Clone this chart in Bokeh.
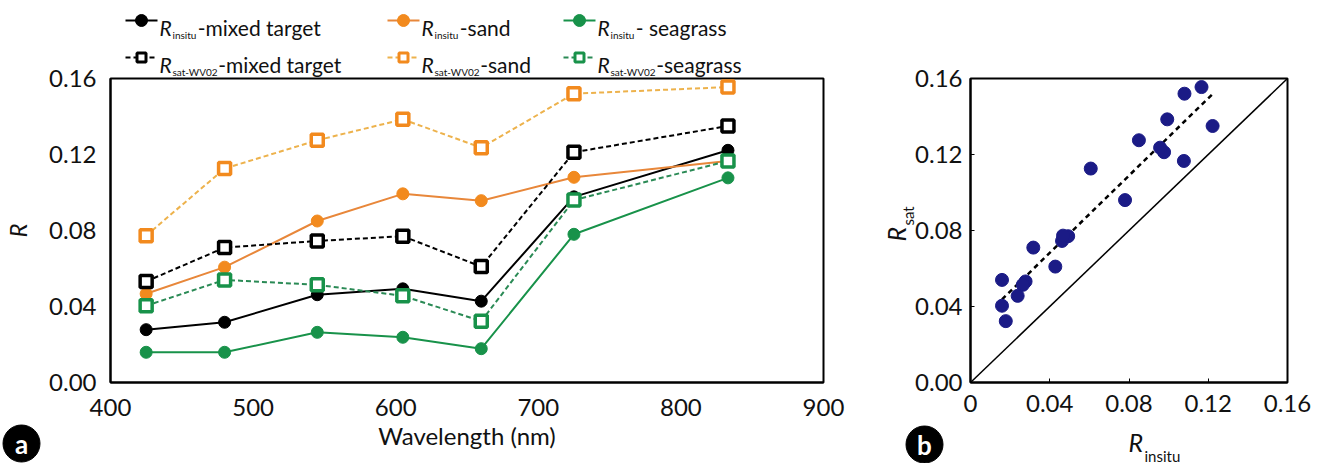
import numpy as np
from bokeh.plotting import figure
from bokeh.layouts import row
from bokeh.models import Range1d, FixedTicker, NumeralTickFormatter, Label, GridBox
from bokeh.embed import file_html
from bokeh.resources import INLINE

# ---------------- data ----------------
wavelength = [425, 480, 545, 605, 660, 725, 833]
insitu_mixed = [0.0278, 0.0317, 0.0462, 0.0493, 0.0428, 0.0977, 0.1222]
insitu_sand = [0.0467, 0.0607, 0.0850, 0.0993, 0.0957, 0.1080, 0.1166]
insitu_seagrass = [0.0159, 0.0159, 0.0264, 0.0238, 0.0178, 0.0780, 0.1077]
sat_mixed = [0.0532, 0.0710, 0.0745, 0.0770, 0.0610, 0.1212, 0.1350]
sat_sand = [0.0773, 0.1126, 0.1275, 0.1385, 0.1236, 0.1520, 0.1555]
sat_seagrass = [0.0404, 0.0540, 0.0514, 0.0456, 0.0323, 0.0960, 0.1166]

wl_ticks = [400, 500, 600, 700, 800, 900]
r_ticks = [0.0, 0.04, 0.08, 0.12, 0.16]

FONT = "Lato"
BLACK = "#000000"
ORANGE = "#F28A1E"
ORANGE_LINE = "#E8873A"
ORANGE_DASH = "#EDB24C"
GREEN = "#18924A"
GREEN_DASH = "#2A8A55"
NAVY = "#1B1B86"
TXT = "#111111"
W, H = 1333, 463


def style_axes(p):
    for ax in list(p.xaxis) + list(p.yaxis):
        ax.axis_line_color = "black"
        ax.axis_line_width = 2
        ax.minor_tick_line_color = None
        ax.major_label_text_font = FONT
        ax.major_label_text_font_size = "24px"
        ax.major_label_text_color = TXT
        ax.axis_label_text_font = FONT
        ax.axis_label_text_font_size = "24px"
        ax.axis_label_text_color = TXT


# ---------------- panel a ----------------
pa = figure(width=860, height=H, x_range=Range1d(400, 900), y_range=Range1d(0, 0.16),
            output_backend="svg", toolbar_location=None,
            min_border_left=108, min_border_right=37, min_border_top=78, min_border_bottom=80)
pa.grid.visible = False
pa.outline_line_color = "black"
pa.outline_line_width = 2

series = [
    (insitu_mixed, BLACK, BLACK, "solid", "circle"),
    (insitu_sand, ORANGE_LINE, ORANGE, "solid", "circle"),
    (insitu_seagrass, GREEN, GREEN, "solid", "circle"),
    (sat_mixed, BLACK, BLACK, "5 3", "square"),
    (sat_sand, ORANGE_DASH, ORANGE, "5 3", "square"),
    (sat_seagrass, GREEN_DASH, GREEN, "5 3", "square"),
]
for vals, lc, mc, dash, mk in series:
    pa.line(wavelength, vals, line_color=lc, line_width=2, line_dash=dash)
    if mk == "circle":
        pa.scatter(wavelength, vals, marker="circle", size=12, fill_color=mc, line_color=mc)
    else:
        pa.scatter(wavelength, vals, marker="square", size=12, fill_color="white",
                   line_color=mc, line_width=3.5)

style_axes(pa)
for ax in list(pa.xaxis) + list(pa.yaxis):
    ax.major_tick_line_color = None
pa.xaxis.ticker = FixedTicker(ticks=wl_ticks)
pa.yaxis.ticker = FixedTicker(ticks=r_ticks)
pa.yaxis.formatter = NumeralTickFormatter(format="0.00")
pa.xaxis.axis_label = "Wavelength (nm)"
pa.xaxis.axis_label_text_font_style = "normal"
pa.yaxis.axis_label = "R"
pa.yaxis.axis_label_text_font_style = "italic"
pa.xaxis.major_label_standoff = 10
pa.yaxis.major_label_standoff = 8
pa.xaxis.axis_label_standoff = 2
pa.yaxis.axis_label_standoff = 14

# ---------------- panel b ----------------
pb = figure(width=W - 860, height=H, x_range=Range1d(r_ticks[0], r_ticks[-1]),
            y_range=Range1d(r_ticks[0], r_ticks[-1]),
            output_backend="svg", toolbar_location=None,
            min_border_left=110, min_border_right=46, min_border_top=77, min_border_bottom=81)
pb.grid.visible = False
pb.outline_line_color = "black"
pb.outline_line_width = 2

x_all = np.array(insitu_mixed + insitu_sand + insitu_seagrass)
y_all = np.array(sat_mixed + sat_sand + sat_seagrass)
slope, intercept = np.polyfit(x_all, y_all, 1)
xr = np.array([x_all.min(), x_all.max()])

pb.line([r_ticks[0], r_ticks[-1]], [r_ticks[0], r_ticks[-1]], line_color="black", line_width=1.5)
pb.line(xr, slope * xr + intercept, line_color="black", line_width=2.5, line_dash="5 4")
pb.scatter(x_all, y_all, marker="circle", size=13, fill_color=NAVY, line_color=NAVY)

style_axes(pb)
for ax in list(pb.xaxis) + list(pb.yaxis):
    ax.major_tick_line_color = "black"
    ax.major_tick_in = 4
    ax.major_tick_out = 0
pb.xaxis.ticker = FixedTicker(ticks=r_ticks)
pb.yaxis.ticker = FixedTicker(ticks=r_ticks)
pb.xaxis.formatter = NumeralTickFormatter(format="0.00")
pb.yaxis.formatter = NumeralTickFormatter(format="0.00")
pb.xaxis.major_label_overrides = {0: "0"}
pb.xaxis.major_label_standoff = 12
pb.yaxis.major_label_standoff = 8

# ---------------- transparent overlay: legend, badges, rich axis titles ----------------
ov = figure(width=W, height=H, x_range=Range1d(0, W), y_range=Range1d(H, 0),
            x_axis_type=None, y_axis_type=None, output_backend="svg",
            toolbar_location=None, min_border=0)
ov.grid.visible = False
ov.outline_line_color = None
ov.background_fill_alpha = 0
ov.border_fill_alpha = 0

EM = {'i': 0.233, 'n': 0.566, 's': 0.419, 't': 0.357, 'u': 0.566, 'a': 0.507,
      '-': 0.34, 'W': 0.96, 'V': 0.68, '0': 0.58, '2': 0.58}


def text_w(s, size):
    return sum(EM.get(c, 0.5) for c in s) * size


def label(x, y, text, size, style="normal", color=TXT, align="left", baseline="alphabetic",
          angle=0):
    ov.add_layout(Label(x=x, y=y, text=text, text_font=FONT, text_font_size=f"{size}px",
                        text_font_style=style, text_color=color, text_align=align,
                        text_baseline=baseline, angle=angle, angle_units="deg"))


legend_items = [
    # (col center, row y, line color, marker color, dash, marker, subscript, text)
    (141, 20, BLACK, BLACK, "solid", "circle", "insitu", "-mixed target"),
    (403, 20, ORANGE_LINE, ORANGE, "solid", "circle", "insitu", "-sand"),
    (579, 20, GREEN, GREEN, "solid", "circle", "insitu", "- seagrass"),
    (141, 57, BLACK, BLACK, "5 3", "square", "sat-WV02", "-mixed target"),
    (403, 57, ORANGE_DASH, ORANGE, "5 3", "square", "sat-WV02", "-sand"),
    (579, 57, GREEN_DASH, GREEN, "5 3", "square", "sat-WV02", "-seagrass"),
]
SUB = 10
for xc, ry, lc, mc, dash, mk, sub, txt in legend_items:
    ov.line([xc - 16, xc + 16], [ry, ry], line_color=lc, line_width=2, line_dash=dash)
    if mk == "circle":
        ov.scatter([xc], [ry], marker="circle", size=12, fill_color=mc, line_color=mc)
    else:
        ov.scatter([xc], [ry], marker="square", size=9, fill_color="white",
                   line_color=mc, line_width=3)
    rx = xc + 18
    base = ry + 7
    label(rx, base, "R", 21, style="italic")
    sx = rx + 13
    label(sx, base + 7, sub, SUB)
    label(sx + text_w(sub, SUB) + 1.5, base, txt, 21)

# badges
ov.scatter([21, 924], [443, 444], marker="circle", size=37, fill_color="black", line_color="black")
label(21, 443, "a", 26, style="bold", color="white", align="center", baseline="middle")
label(924, 444, "b", 26, style="bold", color="white", align="center", baseline="middle")

# panel b axis titles with subscripts
label(1128, 441, "R", 25, style="italic")
label(1144, 455, "insitu", 15)
label(895, 241, "R", 25, style="italic", angle=90)
label(907, 225, "sat", 15, angle=90)

layout = GridBox(children=[(row(pa, pb), 0, 0), (ov, 0, 0)])
open("out.html", "w").write(file_html(layout, INLINE))
